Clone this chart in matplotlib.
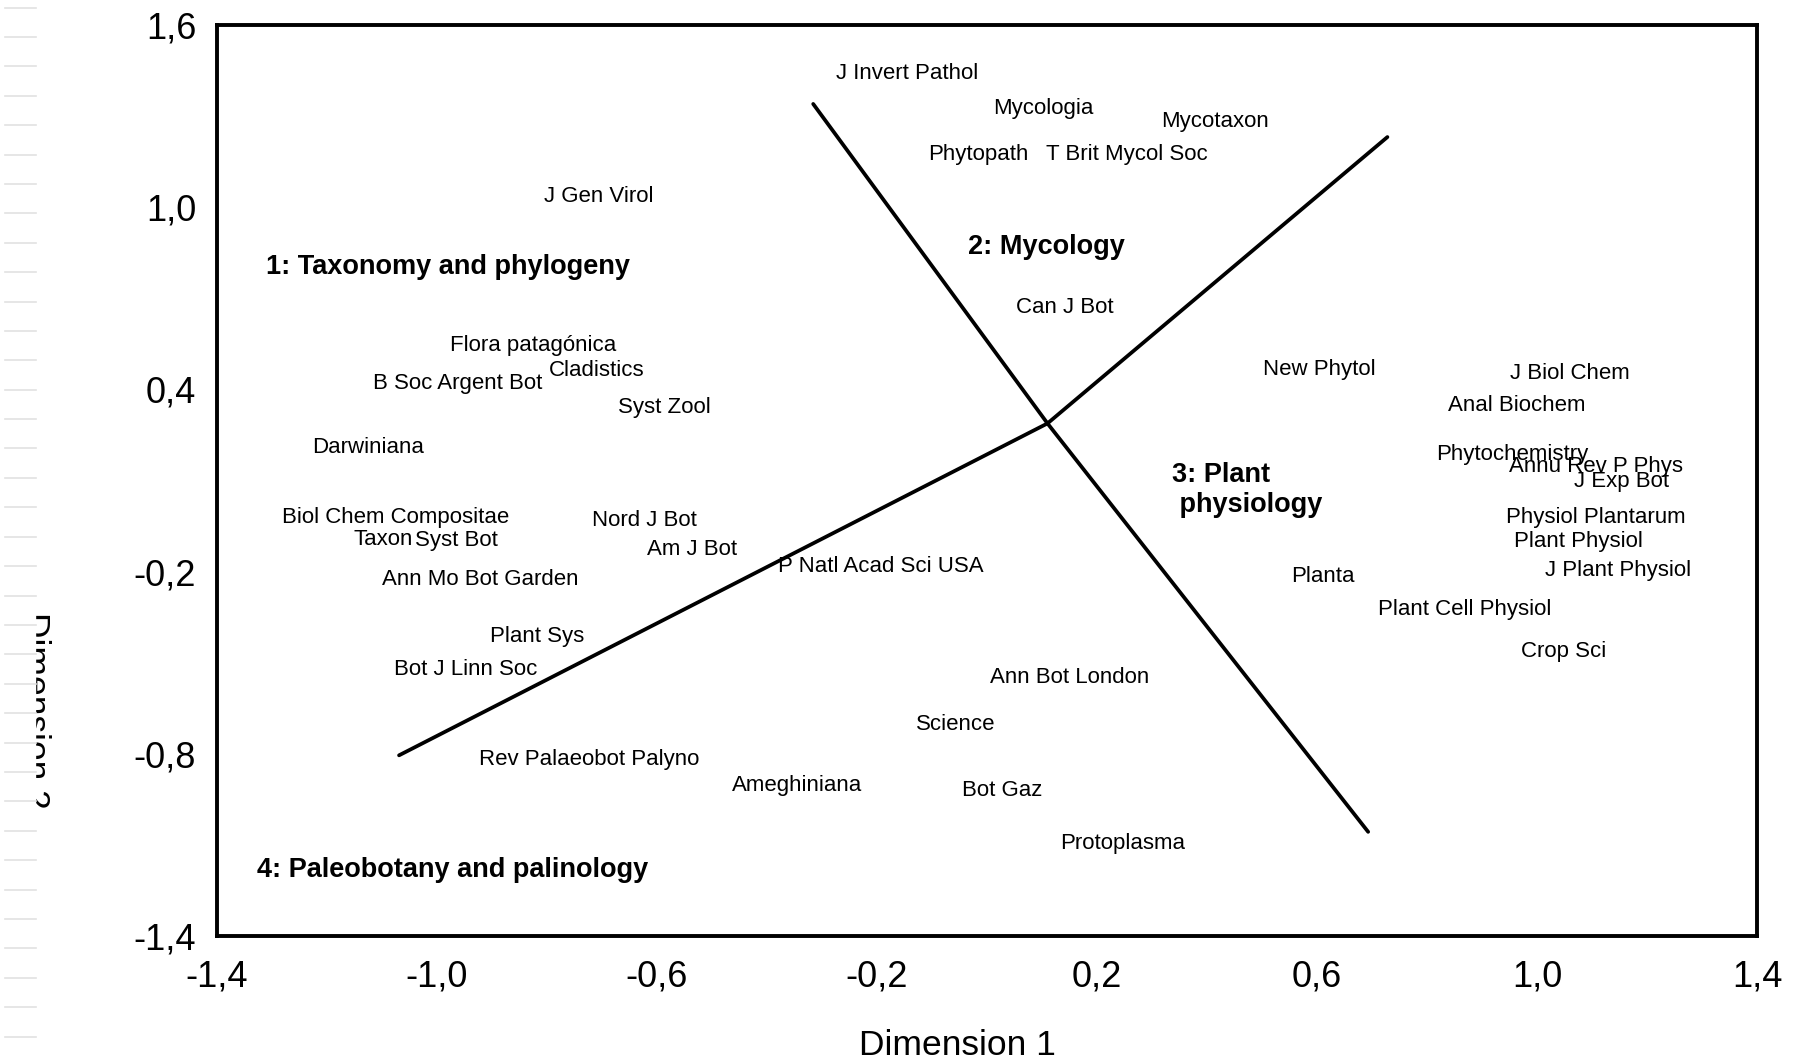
import numpy as np
import matplotlib.pyplot as plt
from matplotlib.patches import Rectangle
from matplotlib.lines import Line2D

plt.rcParams['font.family'] = ['Liberation Sans', 'DejaVu Sans']

# journal positions on the two dimensions
journals = ["J Invert Pathol", "Mycologia", "Mycotaxon", "Phytopath", "T Brit Mycol Soc",
            "J Gen Virol", "Can J Bot", "Flora patagónica", "Cladistics", "B Soc Argent Bot",
            "Syst Zool", "Darwiniana", "New Phytol", "J Biol Chem", "Anal Biochem",
            "Phytochemistry", "Annu Rev P Phys", "J Exp Bot", "Physiol Plantarum",
            "Plant Physiol", "J Plant Physiol", "Planta", "Plant Cell Physiol", "Crop Sci",
            "Biol Chem Compositae", "Taxon", "Syst Bot", "Nord J Bot", "Am J Bot",
            "P Natl Acad Sci USA", "Ann Mo Bot Garden", "Plant Sys", "Bot J Linn Soc",
            "Ann Bot London", "Science", "Rev Palaeobot Palyno", "Ameghiniana", "Bot Gaz",
            "Protoplasma"]
dim1 = [-0.146, 0.102, 0.414, -0.015, 0.254,
        -0.705, 0.142, -0.826, -0.709, -0.963,
        -0.587, -1.125, 0.605, 1.059, 0.963,
        0.955, 1.107, 1.153, 1.107,
        1.076, 1.148, 0.610, 0.868, 1.049,
        -1.076, -1.098, -0.965, -0.622, -0.537,
        -0.193, -0.922, -0.818, -0.947,
        0.150, -0.056, -0.724, -0.345, 0.027,
        0.246]
dim2 = [1.449, 1.332, 1.291, 1.182, 1.182,
        1.042, 0.677, 0.552, 0.469, 0.428,
        0.349, 0.217, 0.473, 0.462, 0.356,
        0.194, 0.153, 0.104, -0.013,
        -0.092, -0.187, -0.209, -0.315, -0.454,
        -0.013, -0.085, -0.089, -0.025, -0.119,
        -0.175, -0.217, -0.405, -0.515,
        -0.541, -0.696, -0.812, -0.895, -0.914,
        -1.088]

# cluster names
groups = ["1: Taxonomy and phylogeny", "2: Mycology", "3: Plant\n physiology",
          "4: Paleobotany and palinology"]
group_x = [-1.310, -0.035, 0.337, -1.327]
group_y = [0.812, 0.880, 0.085, -1.174]

# partition lines, all leaving from one centre
centre_x, centre_y = 0.110, 0.288
ends_x = [-0.316, 0.693, -1.069, 0.728]
ends_y = [1.340, -1.057, -0.805, 1.231]

xticks = [-1.4, -1.0, -0.6, -0.2, 0.2, 0.6, 1.0, 1.4]
yticks = [-1.4, -0.8, -0.2, 0.4, 1.0, 1.6]

W, H = 1794, 1060
fig = plt.figure(figsize=(W / 100, H / 100), dpi=100)
ax = fig.add_axes([217 / W, 124 / H, 1540 / W, 911 / H])

for ex, ey in zip(ends_x, ends_y):
    ax.plot([centre_x, ex], [centre_y, ey], color='black', lw=2.7, solid_capstyle='round')

for name, x, y in zip(journals, dim1, dim2):
    ax.text(x, y, name, fontsize=16, ha='center', va='center_baseline')

for name, x, y in zip(groups, group_x, group_y):
    ax.text(x, y, name, fontsize=19.5, fontweight='bold', ha='left', va='center_baseline')

ax.set_xlim(-1.4, 1.4)
ax.set_ylim(-1.4, 1.6)
ax.set_xticks(xticks, [f"{t:.1f}".replace('.', ',') for t in xticks])
ax.set_yticks(yticks, [f"{t:.1f}".replace('.', ',') for t in yticks])
ax.tick_params(axis='both', length=0, labelsize=26)
ax.tick_params(axis='x', pad=17)
ax.tick_params(axis='y', pad=15)
for s in ax.spines.values():
    s.set_linewidth(2.8)

fig.text(957 / W, 5 / H, "Dimension 1", fontsize=25.5, ha='center', va='baseline')
fig.text(25 / W, 1 - 710 / H, "Dimension 2", fontsize=25.5, rotation=270,
         rotation_mode='anchor', ha='center', va='baseline')

# white ruler strip on the left edge that covers part of the y label
fig.add_artist(Rectangle((0, 0), 35 / W, 1, transform=fig.transFigure,
                         color='white', zorder=10))
for yy in np.arange(7.5, 1045, 29.4):
    fig.add_artist(Line2D([5 / W, 36 / W], [1 - yy / H] * 2, transform=fig.transFigure,
                          color='#e2e2e2', lw=1.2, zorder=11))

fig.savefig('out.png', dpi=100)
